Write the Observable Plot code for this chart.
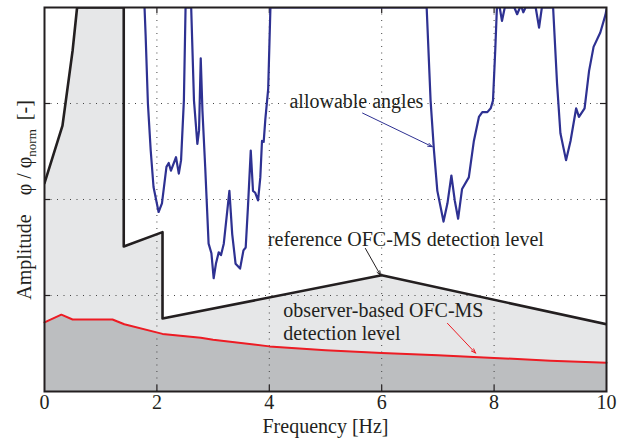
<!DOCTYPE html>
<html>
<head>
<meta charset="utf-8">
<script src="https://cdn.jsdelivr.net/npm/d3@7"></script>
<script src="https://cdn.jsdelivr.net/npm/@observablehq/plot@0.6"></script>
<style>
  html, body { margin: 0; padding: 0; background: #fff; }
  #chart { width: 642px; height: 441px; }
  #chart svg, #chart svg text { font-family: "Liberation Serif", serif !important; }
</style>
</head>
<body>
<div id="chart"></div>
<script>
// ---- data ----
const xTicks = [0, 2, 4, 6, 8, 10];
const xGrid = [2, 4, 6, 8];
const yTicks = [1, 2, 3];

// reference OFC-MS detection level (black)
const refFreq  = [0, 0.32, 0.5, 0.58, 1.41, 1.41, 2.1, 2.1, 6, 10];
const refLevel = [2.17, 2.77, 3.55, 4.0, 4.0, 1.51, 1.66, 0.76, 1.21, 0.70];

// observer-based OFC-MS detection level (red)
const obsFreq  = [0, 0.3, 0.5, 1.21, 1.42, 2.1, 2.78, 3, 4, 5, 6, 7, 8, 9, 10];
const obsLevel = [0.72, 0.80, 0.75, 0.75, 0.70, 0.60, 0.56, 0.54, 0.47, 0.43, 0.40, 0.378, 0.35, 0.32, 0.30];

// allowable angles (blue), clipped at the top of the axes
const angFreq = [1.78, 1.80, 1.84, 1.89, 1.94, 2.03, 2.09, 2.17, 2.21, 2.25, 2.34, 2.39, 2.43, 2.48, 2.51,
  2.61, 2.66, 2.72, 2.75, 2.78, 2.81, 2.86, 2.92, 2.97, 3.01, 3.05, 3.10, 3.14, 3.19, 3.29, 3.34, 3.40,
  3.48, 3.54, 3.58, 3.62, 3.67, 3.71, 3.75, 3.80, 3.84, 3.87, 3.90, 3.93, 3.98, 4.02,
  6.80, 6.87, 6.93, 6.99, 7.10, 7.17, 7.24, 7.30, 7.36, 7.43, 7.55, 7.64, 7.73, 7.79, 7.88, 7.94, 7.98,
  8.02, 8.05, 8.10, 8.14, 8.19, 8.36, 8.41, 8.46, 8.49, 8.52, 8.56, 8.74, 8.80, 8.85, 9.05, 9.12, 9.18,
  9.28, 9.36, 9.46, 9.51, 9.61, 9.69, 9.77, 9.89, 9.98, 10];
const angValue = [4.0, 3.7, 3.0, 2.51, 2.13, 1.87, 1.96, 2.34, 2.38, 2.30, 2.44, 2.27, 2.41, 3.03, 4.0,
  4.0, 3.03, 2.58, 2.72, 3.47, 2.93, 2.33, 1.54, 1.44, 1.18, 1.33, 1.45, 1.42, 1.54, 2.09, 1.64, 1.33,
  1.28, 1.47, 1.50, 1.92, 2.51, 2.09, 2.07, 1.99, 2.23, 2.61, 2.60, 2.84, 3.15, 4.0,
  4.0, 3.03, 2.51, 2.09, 1.77, 1.96, 2.25, 1.99, 1.80, 2.11, 2.23, 2.61, 2.86, 2.91, 2.91, 2.95, 3.03,
  3.55, 4.0, 4.0, 3.86, 4.0, 4.0, 3.93, 4.0, 4.0, 3.95, 4.0, 4.0, 3.79, 4.0, 4.0, 3.21, 2.69,
  2.41, 2.61, 2.95, 2.86, 2.95, 3.34, 3.59, 3.74, 3.92, 3.98];

// annotations (centred labels, then left-aligned labels)
const centerNoteText  = ["allowable angles", "reference OFC-MS detection level"];
const centerNoteFreq  = [5.55, 6.43];
const centerNoteLevel = [3.02, 1.58];
const leftNoteText  = ["observer-based OFC-MS", "detection level"];
const leftNoteFreq  = [4.25, 4.25];
const leftNoteLevel = [0.84, 0.60];

const arrowFreq1  = [5.66, 5.71, 7.17];
const arrowLevel1 = [2.90, 1.49, 0.71];
const arrowFreq2  = [6.90, 5.98, 7.67];
const arrowLevel2 = [2.55, 1.21, 0.40];
const arrowColor  = ["#2e3192", "#231f20", "#ed1c24"];

// ---- tables ----
const ref = refFreq.map((f, i) => ({f, v: refLevel[i]}));
const obs = obsFreq.map((f, i) => ({f, v: obsLevel[i]}));
const ang = angFreq.map((f, i) => ({f, v: angValue[i]}));
const centerNotes = centerNoteText.map((t, i) => ({t, f: centerNoteFreq[i], v: centerNoteLevel[i]}));
const leftNotes = leftNoteText.map((t, i) => ({t, f: leftNoteFreq[i], v: leftNoteLevel[i]}));
const arrows = arrowFreq1.map((f, i) => ({f1: f, v1: arrowLevel1[i], f2: arrowFreq2[i], v2: arrowLevel2[i], c: arrowColor[i]}));

const ink = "#231f20";
const serif = "Liberation Serif";
const gridStyle = {stroke: "#444", strokeOpacity: 1, strokeWidth: 1, strokeDasharray: "1,5.5"};

const plot = Plot.plot({
  width: 642,
  height: 441,
  marginLeft: 44,
  marginRight: 36,
  marginTop: 7,
  marginBottom: 50,
  style: {fontFamily: serif, fontSize: "20px", color: ink, background: "#fff"},
  x: {domain: [0, 10], axis: null},
  y: {domain: [0, 4], axis: null},
  marks: [
    Plot.area(ref, {x1: "f", y1: 0, y2: "v", fill: "#e6e7e8", clip: true}),
    Plot.area(obs, {x1: "f", y1: 0, y2: "v", fill: "#bcbec0"}),
    Plot.gridX(xGrid, gridStyle),
    Plot.gridY(yTicks, gridStyle),
    Plot.tickX(xGrid, {x: d => d, stroke: ink, strokeWidth: 1.2, insetTop: 378}),
    Plot.tickX(xGrid, {x: d => d, stroke: ink, strokeWidth: 1.2, insetBottom: 378}),
    Plot.tickY(yTicks, {y: d => d, stroke: ink, strokeWidth: 1.2, insetRight: 556}),
    Plot.tickY(yTicks, {y: d => d, stroke: ink, strokeWidth: 1.2, insetLeft: 556}),
    Plot.line(obs, {x: "f", y: "v", stroke: "#ed1c24", strokeWidth: 2}),
    Plot.line(ang, {x: "f", y: "v", stroke: "#2e3192", strokeWidth: 2.2, clip: true}),
    Plot.line(ref, {x: "f", y: "v", stroke: ink, strokeWidth: 2.6, clip: true}),
    Plot.frame({stroke: ink, strokeWidth: 2}),
    Plot.text(xTicks, {x: d => d, text: d => String(d), frameAnchor: "bottom", dy: 17, fill: ink, fontSize: 20, fontFamily: serif}),
    Plot.text(["Frequency [Hz]"], {frameAnchor: "bottom", dy: 41, fill: ink, fontSize: 20, fontFamily: serif}),
    Plot.text(centerNotes, {x: "f", y: "v", text: "t", textAnchor: "middle", fill: ink, fontSize: 20, fontFamily: serif}),
    Plot.text(leftNotes, {x: "f", y: "v", text: "t", textAnchor: "start", fill: ink, fontSize: 20, fontFamily: serif}),
    Plot.arrow(arrows, {x1: "f1", y1: "v1", x2: "f2", y2: "v2", stroke: "c", strokeWidth: 1, headLength: 7, headAngle: 40})
  ]
});

// y axis label with subscript
const svg = d3.select(plot);
const lab = svg.append("text")
  .attr("transform", "translate(31,200) rotate(-90)")
  .attr("text-anchor", "middle")
  .attr("fill", ink)
  .style("font-family", serif)
  .style("font-size", "20px");
lab.append("tspan").text("Amplitude");
lab.append("tspan").attr("dx", 19).text("\u03C6 / \u03C6");
lab.append("tspan").attr("dy", 5).style("font-size", "13px").text("norm");
lab.append("tspan").attr("dy", -5).attr("dx", 9).text("[-]");

document.getElementById("chart").appendChild(plot);
</script>
</body>
</html>
